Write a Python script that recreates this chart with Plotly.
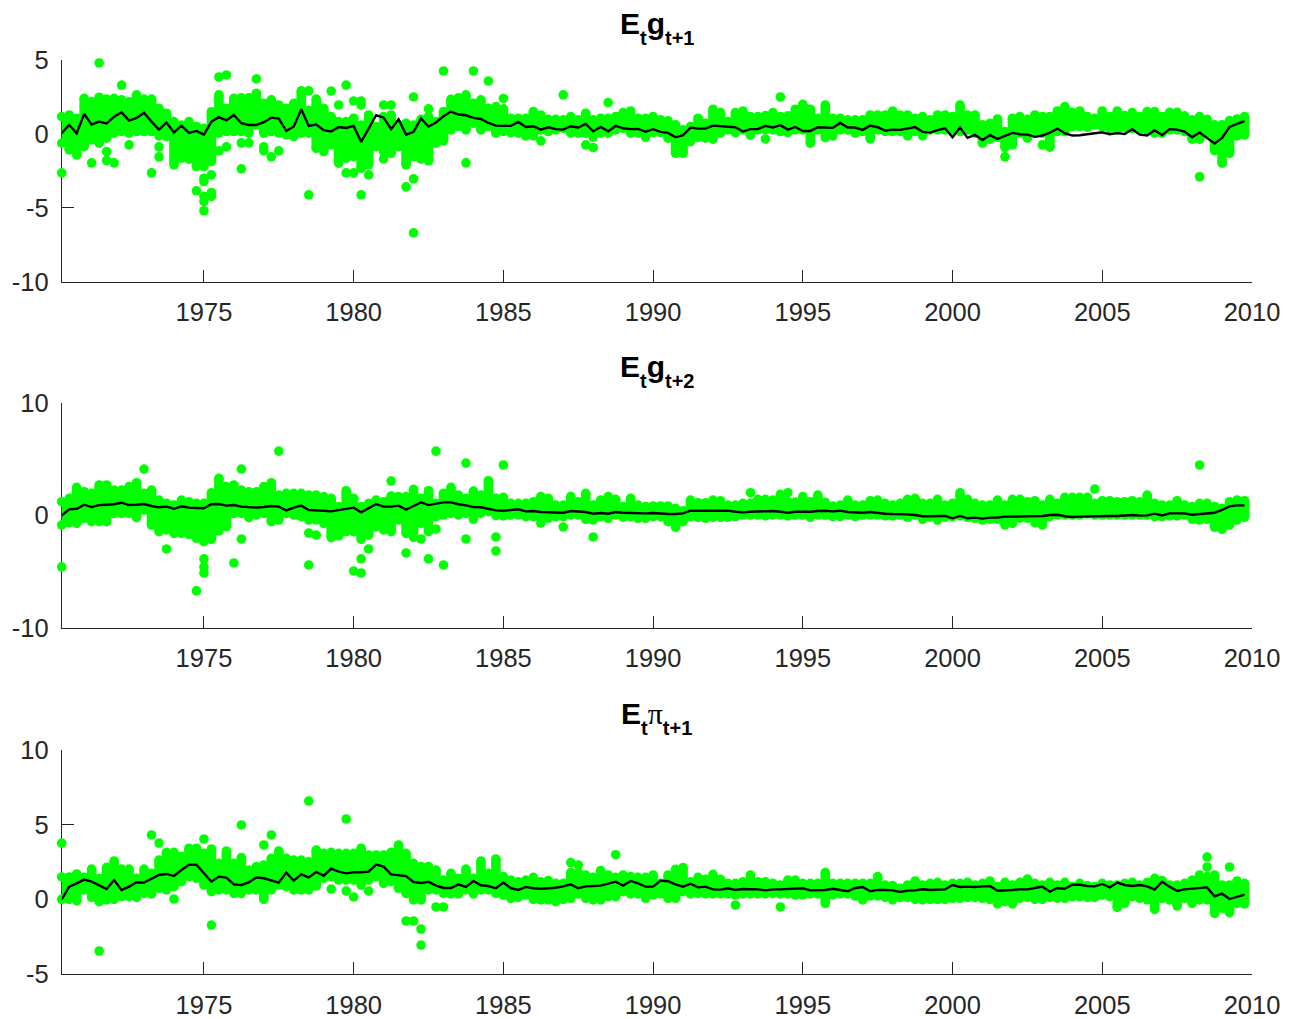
import plotly.graph_objects as go
from plotly.subplots import make_subplots

QUARTERS = [1970.25 + 0.25 * i for i in range(159)]
YEAR_TICKS = [1975, 1980, 1985, 1990, 1995, 2000, 2005, 2010]

G1_MEAN = [.05,.6,.05,1.35,.63,.83,.7,1.17,1.46,.9,
 1.08,1.42,.83,.29,.77,.09,.56,.07,.2,-.05,
 .83,1.13,.92,1.28,.72,.6,.6,.79,1.1,1.04,
 .2,.5,1.67,.54,.63,.25,.16,.47,.4,.54,
 -.54,.34,1.26,1.1,.32,.99,-.05,.14,1.04,.5,
 .77,1.19,1.51,1.31,1.26,1.08,1.01,.74,.56,.54,
 .54,.81,.47,.52,.29,.45,.32,.29,.52,.43,
 .68,.18,.47,.18,.54,.38,.32,.34,.14,.32,
 .14,.07,-.23,-.09,.43,.36,.36,.56,.52,.5,
 .45,.16,.32,.32,.54,.43,.59,.29,.47,.2,
 .2,.45,.41,.41,.74,.43,.43,.27,.56,.45,
 .22,.29,.27,.38,.47,.14,.09,.25,.38,-.23,
 .43,-.27,-.07,-.41,-.09,-.34,-.11,.07,-.02,-.05,
 -.2,-.11,.09,.36,.05,-.11,-.09,-.02,.05,.11,
 -.02,.05,0,.32,-.05,-.11,.25,-.07,.32,.29,
 .16,-.23,.09,-.29,-.65,-.27,.47,.68,.86]
G1_HI = [1.17,1.28,1.06,2.41,2.18,2.48,2.36,2.41,2.3,2.18,
 2.64,2.36,2.36,1.73,1.4,.83,.6,.83,.5,.38,
 1.5,2.64,1.73,2.41,2.45,2.45,2.75,2.07,2.3,1.96,
 1.73,2.07,2.91,1.6,2.36,1.73,1.17,.83,.83,1.06,
 .6,1.28,.5,1.17,1.28,.6,.72,.6,.99,1.17,
 .83,1.51,2.34,2.45,2.64,2.07,2.3,1.73,1.85,1.7,
 1.06,1.06,1.06,1.51,1.28,.99,.99,.95,1.17,.95,
 1.4,.95,1.06,1.06,1.17,1.44,1.55,1.06,1.06,1.17,
 .95,.88,.61,.27,.5,1.06,.72,1.67,1.44,.83,
 1.44,1.55,1.17,1.17,1.24,1.44,1.17,1.22,1.67,2.0,
 1.67,1.06,1.96,1.06,1.06,.95,.95,.95,1.28,1.28,
 1.28,1.55,1.28,1.28,1.06,1.17,.95,1.28,1.28,1.17,
 1.96,1.28,1.28,.61,.72,1.01,.16,1.06,1.17,.99,
 1.28,1.17,1.17,1.55,1.85,1.46,1.55,1.17,1.06,1.55,
 1.17,1.55,1.24,1.44,1.17,1.51,1.51,1.17,1.46,1.46,
 1.22,.95,1.17,.99,.61,.61,.9,1.01,1.17]
G1_LO = [-.63,-1.08,-1.42,-.86,-.41,-.63,-.29,.05,.16,.05,
 .16,.16,.16,-.14,-.18,-2.09,-1.64,-1.71,-2.21,-2.21,
 -1.87,.05,.16,.16,.16,.05,.6,.05,.16,.05,
 -.07,-.18,.05,.05,-.97,-1.19,-.74,-1.98,-1.64,-1.53,
 -2.32,-2.09,-.86,-1.19,-1.31,-.86,-2.09,-1.53,-1.71,-1.82,
 -.63,-.47,.27,.5,.27,.72,.27,.5,.05,.16,
 .09,.05,-.14,-.14,.27,.16,.27,.38,.05,.05,
 .05,-.23,.05,.05,.27,.38,.05,.05,-.23,.09,
 .09,-.29,-1.31,-1.31,-.52,-.23,-.29,-.36,.05,.27,
 .09,.27,-.09,.27,.27,.27,.16,.09,.27,.27,
 -.63,.27,-.25,-.14,.27,.27,.05,.16,-.34,.27,
 .16,.16,.16,-.14,.16,-.14,.27,.27,.27,.27,
 .16,.27,.05,-.63,-.36,-.23,-.92,-.74,.05,-.29,
 .05,.05,-.9,.16,.16,.5,.5,.45,.61,.5,
 .38,.27,.45,.38,.27,.27,.05,.05,.27,.27,
 .16,-.36,-.36,.05,-1.13,-1.98,-1.31,-.14,-.07]
G1_OUT_X = [1970.25,1971.25,1971.5,1971.75,1971.75,1972,1972.25,1972.5,1973.25,1973.5,1973.5,
 1974.75,1975,1975,1975,1975,1975,1975.25,1975.25,1975.25,1975.5,1975.5,1975.75,1975.75,
 1976.25,1976.25,1976.5,1976.75,1977,1977,1977.25,1977.5,1978.5,1978.5,1979.25,1979.5,
 1979.75,1979.75,1980,1980,1980.25,1980.25,1980.25,1980.5,1981,1981,1981.25,1981.75,
 1982,1982,1982,1982.5,1983,1983.75,1984,1984.5,1985,1986.25,1987,1987.75,1988,1988.5,
 1993.75,1994.25,2001.75,2003,2008.25]
G1_OUT_Y = [-2.64,-1.96,4.8,-1.2,-1.8,-1.96,3.3,-.74,-2.64,-.88,-1.55,
 -3.85,-3.0,-3.22,-4.23,-4.57,-5.2,-2.77,-3.96,-4.23,3.85,-1.15,3.99,-.88,
 -2.36,-.61,-.61,3.72,-.88,-1.15,-1.55,-1.15,2.91,-4.12,2.9,1.96,
 3.3,-2.64,2.23,-2.64,2.23,1.96,-4.12,-2.77,1.96,-1.69,1.96,-3.58,
 2.5,-3.04,-6.69,1.69,4.26,-1.96,4.26,3.58,2.4,-.47,2.64,-.74,-.92,2.12,
 -.34,2.5,-1.55,-.74,-2.9]

G2_MEAN = [0,.55,.6,.96,.75,.93,.96,1.0,1.14,.93,
 .96,1.02,.85,.73,.79,.6,.82,.7,.67,.64,
 1.0,1.02,.88,.93,.79,.73,.7,.76,.85,.79,
 .46,.7,.88,.49,.49,.43,.37,.49,.55,.7,
 .28,.64,1.02,.79,.79,.88,.52,.85,1.17,.93,
 1.05,1.17,1.17,1.0,.9,.76,.73,.58,.46,.43,
 .49,.55,.37,.4,.31,.31,.28,.25,.4,.37,
 .31,.16,.22,.16,.31,.25,.22,.22,.19,.22,
 .16,.13,.13,.19,.43,.43,.46,.49,.49,.43,
 .34,.28,.34,.37,.4,.4,.34,.25,.34,.31,
 .34,.4,.43,.37,.43,.31,.28,.25,.31,.22,
 .16,.13,.13,.1,.04,-.07,-.07,-.07,-.04,-.25,
 -.04,-.25,-.19,-.28,-.19,-.19,-.1,-.1,-.1,-.1,
 -.07,-.04,.04,.07,-.07,-.13,-.1,-.07,-.07,-.04,
 -.04,-.04,.01,.04,-.01,.01,.16,.01,.19,.22,
 .19,.07,.13,.13,.25,.49,.82,.9,.9]
G2_HI = [1.23,1.53,2.51,2.12,1.97,2.72,2.72,2.27,2.27,2.57,
 2.92,1.97,2.27,1.38,1.08,.93,1.38,1.23,1.08,1.08,
 2.03,3.31,2.57,2.72,2.27,2.12,2.12,2.57,2.92,1.82,
 1.97,1.97,1.97,1.82,1.82,1.68,1.53,.79,2.21,1.53,
 .79,1.08,1.38,1.23,1.74,1.68,1.68,2.33,1.53,2.21,
 1.08,1.97,2.51,1.82,1.53,2.18,1.82,3.1,1.53,1.62,
 1.08,1.08,1.08,1.23,1.68,1.53,.93,.93,1.68,1.23,
 1.97,.93,1.38,1.68,1.44,.79,1.53,.93,.79,.85,
 .85,.85,.64,.43,1.38,1.14,1.14,1.38,1.32,.93,
 .93,1.08,1.08,1.44,1.44,1.38,1.88,1.23,1.2,1.68,
 1.23,1.82,1.17,.85,.93,1.38,.93,.93,1.32,1.38,
 1.08,.93,1.08,1.44,1.53,1.08,1.08,1.44,.93,1.08,
 2.03,1.44,1.08,.93,.93,1.38,.93,1.44,1.44,1.23,
 1.32,.93,1.44,1.08,1.62,1.62,1.62,1.62,1.08,1.32,
 1.32,1.23,1.23,1.32,1.23,1.82,1.08,.93,.93,1.32,
 .93,.79,1.08,1.08,.79,.64,1.23,1.38,1.32]
G2_LO = [-.85,-.64,-.7,-.25,-.55,-.55,-.55,.19,.19,.19,
 -.19,.49,-.85,-1.44,-1.29,-1.59,-1.59,-1.68,-2.03,-2.33,
 -2.12,-1.38,-.99,.19,.19,-.19,.04,.19,-.55,-.4,
 .19,.04,-.1,-.4,-.4,-.7,-1.97,-1.82,-1.44,-1.44,
 -2.12,-1.74,-.99,-1.29,-1.44,-.4,-1.59,-1.94,-.7,-1.44,
 -.1,.04,.19,.04,.19,-.34,.19,.34,-.01,-.04,
 .04,.04,-.1,-.1,-.25,-.25,-.1,-.1,.04,.04,
 -.34,-.4,-.1,-.25,.04,-.16,-.1,-.25,-.25,-.1,
 -.1,-.55,-1.05,-.55,-.1,-.16,-.25,-.16,-.16,-.16,
 -.1,.04,.04,.04,-.04,.04,.04,-.04,.04,.04,
 -.16,.04,.04,-.1,-.1,.04,-.1,.04,.04,.04,
 -.04,-.04,.04,-.16,.04,-.34,-.16,-.4,-.16,-.1,
 -.04,-.16,-.25,-.4,-.34,-.34,-.85,-.7,-.25,-.25,
 -.64,-.85,-.1,.04,.04,.04,.04,.13,.04,.04,
 .04,.04,.04,.04,.04,.04,-.1,-.1,-.04,-.04,
 .04,-.34,-.4,-.34,-1.05,-1.23,-.85,-.4,-.16]
G2_OUT_X = [1970.25,1973,1973.75,1974.75,1975,1975,1975,1976,1976.25,1976.25,1977.5,
 1978.5,1978.5,1978.75,1980,1980.25,1980.25,1980.5,1981.25,1981.75,1982.25,1982.5,
 1982.75,1982.75,1983,1983.75,1983.75,1984.75,1984.75,1985,1986.25,1987,1988,
 1993.25,1994.5,2004.75,2008.25]
G2_OUT_Y = [-4.58,4.14,-2.98,-6.72,-3.87,-4.58,-5.12,-4.23,4.14,-2.09,5.74,
 -1.56,-4.41,-1.74,-4.94,-3.87,-5.12,-2.98,3.07,-3.34,-2.09,-3.87,
 5.74,-1.2,-4.41,4.67,-2.09,-1.91,-3.16,4.5,-.67,-1.02,-1.91,
 2.03,2.03,2.36,4.5]

P1_MEAN = [0,.85,1.07,1.32,1.18,.92,.69,1.29,.63,.85,
 1.14,1.12,1.36,1.63,1.7,1.56,1.96,2.32,2.32,1.74,
 1.18,1.52,1.45,1.0,.96,1.14,1.47,1.41,1.25,1.12,
 1.79,1.25,1.67,1.47,1.83,1.58,2.05,1.85,1.74,1.81,
 1.81,1.85,2.32,2.19,1.67,1.63,1.56,1.16,1.09,1.18,
 .92,.76,.76,1.0,.83,1.23,.94,.89,.74,1.12,
 .74,.63,.83,.74,.71,.74,.78,.87,1.0,.74,
 .87,.89,.92,1.05,1.18,.92,1.23,1.07,.85,.85,
 1.25,1.21,1.0,.85,1.05,.8,.85,.67,.65,.74,
 .63,.69,.69,.67,.6,.67,.67,.69,.74,.74,
 .6,.63,.63,.71,.6,.54,.76,.83,.54,.63,
 .63,.6,.49,.58,.6,.67,.63,.65,.67,.96,
 .83,.85,.83,.87,.89,.58,.58,.63,.67,.67,
 .76,.85,.51,.76,.71,.98,.98,.89,.87,1.03,
 .8,1.12,.96,.89,.96,.87,.65,1.18,.85,.56,
 .67,.71,.76,.8,.2,.38,.02,.16,.31]
P1_HI = [1.5,1.5,1.7,1.47,2.03,1.41,2.14,2.57,2.03,2.03,
 1.41,2.03,1.74,2.63,3.15,3.15,2.86,3.42,3.42,3.08,
 3.37,2.41,3.24,2.41,2.79,1.96,2.19,2.3,2.75,3.24,
 2.75,2.63,2.63,2.52,3.3,3.08,3.15,3.08,3.08,3.08,
 3.42,2.97,2.97,2.97,3.15,3.64,3.08,2.41,2.19,2.19,
 1.96,1.29,1.74,1.41,2.03,1.41,2.57,1.74,2.7,1.52,
 1.29,1.18,1.29,1.47,1.18,1.25,1.07,1.07,1.79,1.79,
 1.63,1.47,1.92,1.63,1.47,1.63,1.52,1.47,1.47,1.63,
 1.07,1.63,2.01,2.12,1.18,1.47,1.34,1.67,1.34,1.07,
 1.07,1.18,1.63,1.18,1.18,1.07,.96,1.29,1.29,1.07,
 1.07,1.07,1.79,1.07,1.07,1.07,1.07,1.07,1.07,1.52,
 .96,.92,.74,.96,1.23,.96,1.07,1.14,.96,1.07,
 1.07,1.14,.96,1.07,1.23,.85,1.14,.96,1.14,1.36,
 1.07,.96,1.14,.96,1.14,.85,1.07,.92,.85,1.07,
 .96,.96,1.07,1.14,.96,1.14,1.41,1.25,.96,.96,
 1.07,1.29,1.63,1.52,1.63,.96,.96,1.23,1.07]
P1_LO = [0,0,-.09,.63,.13,-.16,-.04,0,.18,.18,
 .13,.4,.36,.74,.63,.85,1.18,1.52,1.41,.96,
 .51,.63,.63,.4,.4,.63,.63,0,.63,.96,
 .85,.63,.63,.63,.89,1.41,1.52,1.29,1.29,1.29,
 .96,1.29,1.52,1.07,1.18,.74,.4,-.04,-.04,.63,
 .63,.4,.36,.36,.63,.36,.63,.63,.4,.29,
 .07,.13,.29,0,-.04,-.04,-.16,0,.07,.36,
 .07,-.04,-.04,.18,.18,.51,.36,.36,.07,.29,
 .36,.07,.07,.51,.36,.4,.36,.36,.36,.36,
 .29,.36,.36,.36,.36,.4,.36,.36,.29,.29,
 .36,.36,-.27,.29,.36,.36,.22,-.04,.22,.22,
 .13,-.04,.13,.13,0,-.04,0,0,0,.07,
 .07,.13,.13,.07,0,-.31,-.16,-.31,.07,.13,
 0,0,.13,.07,.07,.18,.18,.13,.13,.29,
 .18,-.54,-.27,.18,.07,-.04,-.67,.07,-.04,-.45,
 .07,-.27,-.04,-.04,-.94,-.6,-.89,-.27,-.31]
P1_OUT_X = [1970.25,1971.5,1973.25,1973.5,1974,1975,1975.25,1976.25,1977,1977.25,1978.5,
 1979.25,1979.75,1979.75,1980,1980.5,1981.75,1982,1982.25,1982.25,1982.75,1983,
 1987.25,1987.5,1988.75,1992.75,1994.25,2008.5,2008.5,2009.25]
P1_OUT_Y = [3.77,-3.46,4.31,3.77,.02,4.04,-1.72,4.98,3.64,4.31,6.58,
 .69,5.38,.56,.16,.56,-1.45,-1.45,-1.99,-3.06,-.51,-.51,
 2.46,2.3,2.99,-.38,-.51,2.83,2.17,2.17]


def low(s):
    return f"<sub><sub><span style='font-size:20px'>{s}</span></sub></sub>"


TITLES = [f"<b>E{low('t')}g{low('t+1')}</b>",
          f"<b>E{low('t')}g{low('t+2')}</b>",
          f"<b>E{low('t')}</b><span style='font-family:Liberation Serif'>π</span><b>{low('t+1')}</b>"]
Y_RANGES = [[-10, 5], [-10, 10], [-5, 10]]
Y_TICKS = [[-10, -5, 0, 5], [-10, 0, 10], [-5, 0, 5, 10]]
PANELS = [(G1_MEAN, G1_HI, G1_LO, G1_OUT_X, G1_OUT_Y),
          (G2_MEAN, G2_HI, G2_LO, G2_OUT_X, G2_OUT_Y),
          (P1_MEAN, P1_HI, P1_LO, P1_OUT_X, P1_OUT_Y)]

W, H = 1293, 1019
LEFT, RIGHT = 61.7, 1252
TOPS = [60, 403.3, 750]
BOTTOMS = [281.7, 627.7, 974]
INK = "#262626"
GREEN = "#00ff00"
DOT = 9.6

fig = make_subplots(rows=3, cols=1)
for k, (mean, hi, lo, ox, oy) in enumerate(PANELS):
    r = k + 1
    fig.add_trace(go.Scatter(
        x=QUARTERS, y=hi, mode="markers", cliponaxis=False, showlegend=False,
        marker=dict(color=GREEN, size=DOT),
        error_y=dict(type="data", symmetric=False, array=[0] * len(hi),
                     arrayminus=[a - b for a, b in zip(hi, lo)],
                     color=GREEN, thickness=DOT, width=0)), row=r, col=1)
    fig.add_trace(go.Scatter(
        x=QUARTERS, y=lo, mode="markers", cliponaxis=False, showlegend=False,
        marker=dict(color=GREEN, size=DOT)), row=r, col=1)
    fig.add_trace(go.Scatter(
        x=ox, y=oy, mode="markers", cliponaxis=False, showlegend=False,
        marker=dict(color=GREEN, size=DOT)), row=r, col=1)
    fig.add_trace(go.Scatter(
        x=QUARTERS, y=mean, mode="lines", cliponaxis=False, showlegend=False,
        line=dict(color="black", width=2.4)), row=r, col=1)
    ax = dict(showgrid=False, zeroline=False, showline=True, linecolor=INK, linewidth=1,
              ticks="inside", ticklen=12, tickwidth=1, tickcolor=INK, layer="below traces",
              automargin=False,
              tickfont=dict(family="Liberation Sans, Arial", size=25.5, color=INK))
    fig.update_xaxes(range=[1970.25, 2010], tickmode="array", tickvals=YEAR_TICKS,
                     ticktext=[str(v) for v in YEAR_TICKS], ticklabelstandoff=8,
                     domain=[LEFT / W, RIGHT / W], row=r, col=1, **ax)
    fig.update_yaxes(range=Y_RANGES[k], tickmode="array", tickvals=Y_TICKS[k],
                     ticktext=[str(v) for v in Y_TICKS[k]], ticklabelstandoff=7,
                     domain=[1 - BOTTOMS[k] / H, 1 - TOPS[k] / H], row=r, col=1, **ax)
    fig.add_annotation(text=TITLES[k], xref="paper", yref="paper", x=656.5 / W,
                       y=1 - (TOPS[k] - 9) / H, xanchor="center", yanchor="bottom", showarrow=False,
                       font=dict(family="Liberation Sans, Arial", size=30, color="black"))

fig.update_layout(width=W, height=H, margin=dict(l=0, r=0, t=0, b=0),
                  paper_bgcolor="white", plot_bgcolor="white")
fig.write_html("out.html", config={"displayModeBar": False},
               post_script="document.body.style.margin='0';document.documentElement.style.overflow='hidden';")
